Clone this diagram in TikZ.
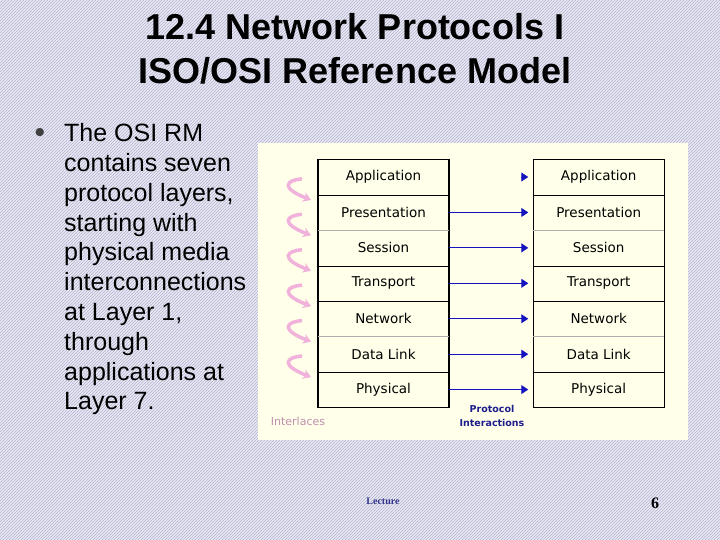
\documentclass[tikz,border=0pt]{standalone}
\usepackage{fontspec}
\setmainfont{Liberation Sans}
\newfontfamily\layerfont{DejaVu Sans}
\newfontfamily\footfont{Liberation Serif}
\usetikzlibrary{patterns,calc,arrows.meta}
\definecolor{bgcol}{RGB}{234,234,244}
\definecolor{stripecol}{RGB}{178,178,208}
\definecolor{creamcol}{RGB}{255,255,234}
\definecolor{hookcol}{RGB}{240,178,218}
\definecolor{sepgray}{RGB}{175,175,175}
\definecolor{protocol}{RGB}{20,20,190}
\definecolor{labelblue}{RGB}{30,30,140}
\definecolor{footblue}{RGB}{50,50,140}

\begin{document}
\begin{tikzpicture}[x=1pt,y=-1pt,>=stealth,
  layer/.style={minimum width=130.5pt,minimum height=35.4pt,inner sep=0pt,
                font=\layerfont\fontsize{13.5}{15}\selectfont},
  proto/.style={protocol,line width=1pt,-{Triangle[length=7pt,width=9pt]}},
  hook/.style={hookcol,line width=3.5pt,-{Stealth[length=8pt,width=10pt]}},
  every node/.style={inner sep=0pt}]
\useasboundingbox (0,0) rectangle (720,540);
\fill[bgcol] (0,0) rectangle (720,540);
\fill[pattern=north east lines,pattern color=stripecol] (0,0) rectangle (720,540);

% title
\node[font=\bfseries\fontsize{36}{43}\selectfont,anchor=base] (title) at (355,40) {12.4 Network Protocols I};
\node[font=\bfseries\fontsize{36}{43}\selectfont,anchor=base] (subtitle) at (355,83.3) {ISO/OSI Reference Model};

% bullet text
\node[font=\fontsize{30}{30}\selectfont,text=black!75,anchor=base] (bullet) at (40,143) {\textbullet};
\node[font=\fontsize{25}{29.8}\selectfont,align=left,anchor=north west] (intro) at (64,123.4)
  {The OSI RM\\contains seven\\protocol layers,\\starting with\\physical media\\interconnections\\at Layer 1,\\through\\applications at\\Layer 7.};

% picture panel
\fill[creamcol] (258,143) rectangle (688,440);
\foreach \name [count=\i] in {Application,Presentation,Session,Transport,Network,Data Link,Physical}{
  \node[layer] (l\i) at (383.5,{159.3+35.43*(\i-0.5)}) {\name};
  \node[layer] (r\i) at (598.7,{159.3+35.43*(\i-0.5)}) {\name};
}
\draw[line width=1.2pt] (l1.north west) rectangle (l7.south east);
\draw[line width=1.2pt] (r1.north west) rectangle (r7.south east);
\foreach \i/\c in {1/black,2/sepgray,3/black,4/black,5/sepgray,6/black}{
  \draw[\c] (l\i.south west) -- (l\i.south east);
  \draw[\c] (r\i.south west) -- (r\i.south east);
}

% peer protocol arrows
\draw[proto] ([xshift=-12pt]r1.west) -- ([xshift=-5pt]r1.west);
\foreach \i in {2,...,7}
  \draw[proto] (l\i.east) -- ([xshift=-5pt]r\i.west);

% interfaces between layers
\foreach \i in {1,...,6}
  \draw[hook] ($(l\i.south west)+(-16,-16)$) .. controls ($(l\i.south west)+(-32,-15)$)
    and ($(l\i.south west)+(-38,-7)$) .. ($(l\i.south west)+(-7,5)$);

\node[text=hookcol!80!black,font=\layerfont\fontsize{11}{13}\selectfont] (interlaces) at (298,421) {Interlaces};
\node[text=labelblue,font=\layerfont\bfseries\fontsize{9.5}{14}\selectfont,align=center] (protolbl) at (492,416)
  {Protocol\\Interactions};

% footer
\node[text=footblue,font=\footfont\bfseries\fontsize{10}{12}\selectfont] (lecture) at (383,501) {Lecture};
\node[font=\footfont\bfseries\fontsize{16}{18}\selectfont] (page) at (655,503) {6};
\end{tikzpicture}
\end{document}
